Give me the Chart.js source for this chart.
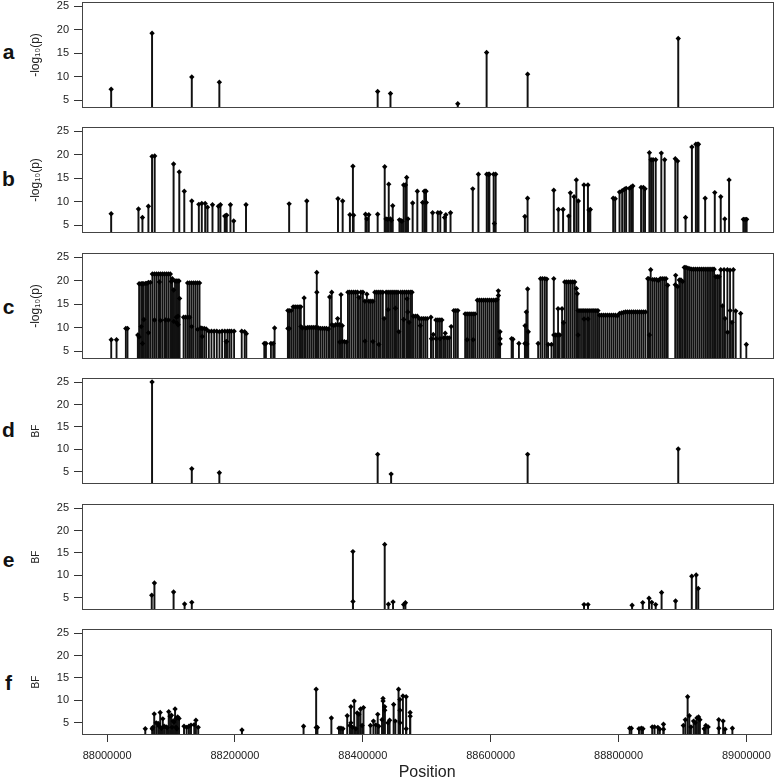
<!DOCTYPE html>
<html lang="en">
<head>
<meta charset="UTF-8">
<title>Association signals by position</title>
<script src="https://cdn.jsdelivr.net/npm/chart.js"></script>
<style>
  body { margin: 0; background: #fff; font-family: "Liberation Sans", Arial, sans-serif; }
  #wrap { position: relative; width: 778px; height: 781px; overflow: hidden; }
  .tag { position: absolute; left: 0; width: 17px; text-align: center; font-weight: bold; font-size: 21px; line-height: 20px; color: #111; }
</style>
</head>
<body>
<div id="wrap">
  <div class="tag" style="top:42px">a</div>
  <div class="tag" style="top:169px">b</div>
  <div class="tag" style="top:297px">c</div>
  <div class="tag" style="top:420px">d</div>
  <div class="tag" style="top:550px">e</div>
  <div class="tag" style="top:673px">f</div>
</div>
<script>
// positions are stored as kb offsets from 88,000,000
const ORIGIN = 88000000;
const xTicks = [88000000, 88200000, 88400000, 88600000, 88800000, 89000000];
const yTicks = [5, 10, 15, 20, 25];

// a: -log10(p), lead signals
const aKb  = [6.2, 70.0, 132.0, 175.0, 422.0, 442.0, 547.0, 592.0, 656.0, 891.0];
const aVal = [7.3, 19.2, 9.9, 8.8, 6.8, 6.4, 4.2, 15.1, 10.5, 18.1];

// b: -log10(p)
const bKb = [6.2, 48.8, 55.0, 64.3, 70.0, 74.1, 103.6, 112.5, 120.3, 132.0,
  143.0, 147.6, 152.9, 156.5, 164.3, 173.6, 176.7, 183.4, 185.0, 186.5,
  192.3, 197.4, 216.6, 283.9, 311.4, 360.1, 367.4, 378.7, 383.4, 384.5,
  403.1, 405.1, 408.2, 422.0, 433.0, 435.0, 437.5, 439.3, 441.9, 443.5,
  445.5, 456.0, 458.5, 460.0, 462.6, 465.3, 467.3, 469.3, 476.6, 483.9,
  492.2, 494.8, 496.4, 497.5, 497.9, 507.7, 515.9, 519.7, 526.4, 528.4,
  535.7, 570.4, 579.2, 592.2, 594.7, 596.3, 603.0, 604.1, 606.1, 651.7,
  655.9, 696.8, 704.0, 711.3, 720.1, 722.7, 728.4, 732.0, 735.1, 743.9,
  750.1, 751.7, 753.8, 789.5, 792.6, 799.4, 803.5, 807.1, 809.7, 814.9,
  817.5, 820.1, 833.0, 836.6, 839.2, 846.0, 848.6, 851.7, 855.8, 864.6,
  869.8, 886.4, 890.0, 902.4, 912.3, 918.5, 921.1, 922.6, 933.0, 948.0,
  957.3, 963.6, 970.3, 992.6, 995.2, 997.7];
const bVal = [7.4, 8.4, 6.6, 9.0, 19.6, 19.7, 18.0, 16.3, 12.2, 10.1,
  9.4, 9.6, 9.6, 8.8, 9.3, 9.0, 9.3, 6.9, 7.0, 7.1,
  9.3, 5.85, 9.3, 9.5, 10.1, 10.6, 10.1, 7.2, 17.5, 7.1,
  7.3, 6.3, 7.2, 7.3, 17.4, 6.3, 6.2, 13.7, 6.3, 6.0,
  9.1, 6.1, 5.9, 5.8, 13.5, 13.5, 15.1, 6.3, 9.7, 12.2,
  9.8, 12.2, 12.2, 12.2, 9.8, 7.6, 7.6, 7.6, 6.6, 7.2,
  7.6, 12.7, 15.8, 15.8, 15.8, 15.8, 15.8, 5.3, 15.8, 6.8,
  10.7, 12.4, 8.3, 8.3, 6.9, 11.85, 11.0, 14.6, 10.1, 13.5,
  13.5, 8.2, 8.3, 10.7, 10.6, 12.0, 12.3, 12.6, 12.8, 12.8,
  13.1, 13.3, 13.0, 13.0, 12.7, 20.4, 18.9, 18.9, 18.9, 20.3,
  18.9, 19.1, 18.6, 6.6, 21.6, 22.2, 22.2, 22.2, 10.7, 11.9,
  11.0, 6.3, 14.6, 6.2, 6.2, 6.2];

// c: -log10(p), all variants
const cKb = [6.3, 14.6, 29.1, 31.7, 47.8, 49.8, 49.9, 53.0, 53.1, 55.0,
  55.1, 57.1, 57.2, 60.2, 62.2, 64.3, 64.4, 67.4, 70.5, 73.7,
  73.8, 76.8, 79.9, 81.5, 83.0, 83.1, 86.1, 89.2, 90.7, 92.3,
  95.4, 95.5, 98.5, 100.0, 101.6, 103.7, 103.8, 105.8, 107.8, 107.9,
  108.5, 110.4, 110.5, 110.6, 112.0, 113.0, 119.2, 122.3, 125.5, 125.6,
  128.6, 128.7, 131.7, 131.8, 134.8, 137.9, 141.0, 141.1, 144.1, 146.2,
  148.2, 148.3, 151.4, 154.5, 158.6, 162.7, 166.9, 171.0, 175.2, 179.3,
  183.5, 185.5, 186.5, 187.6, 190.7, 193.8, 198.0, 209.9, 214.5, 217.1,
  245.1, 247.7, 255.5, 259.1, 261.2, 281.9, 282.0, 284.0, 284.1, 287.1,
  290.2, 293.3, 296.4, 299.5, 302.1, 302.2, 304.7, 307.3, 309.9, 313.0,
  316.1, 319.2, 322.3, 325.4, 327.0, 327.1, 329.5, 332.7, 335.8, 338.9,
  342.0, 345.1, 347.2, 350.3, 350.4, 353.4, 356.5, 359.6, 359.7, 362.7,
  362.8, 364.8, 366.8, 366.9, 370.0, 373.1, 375.6, 378.2, 381.3, 384.5,
  387.6, 390.7, 392.7, 395.8, 399.0, 402.1, 402.2, 405.2, 408.3, 411.4,
  414.5, 414.6, 417.6, 420.7, 423.8, 423.9, 426.9, 430.1, 432.1, 435.2,
  438.3, 438.4, 441.4, 444.5, 447.6, 449.7, 450.7, 453.8, 455.0, 458.0,
  461.1, 462.7, 464.2, 467.3, 467.8, 469.0, 470.4, 471.0, 473.5, 475.6,
  477.7, 480.8, 483.9, 487.0, 488.6, 490.1, 493.2, 496.3, 499.4, 505.1,
  506.0, 508.8, 512.9, 513.0, 516.0, 519.1, 519.2, 522.2, 525.3, 527.4,
  530.5, 533.6, 536.7, 540.9, 544.0, 547.1, 558.5, 561.6, 561.7, 564.7,
  567.8, 570.9, 571.0, 574.0, 577.6, 580.8, 583.9, 587.0, 590.1, 593.2,
  596.3, 599.4, 602.5, 605.6, 608.2, 610.3, 610.4, 612.9, 613.0, 613.1,
  631.0, 633.1, 642.4, 651.7, 652.0, 654.0, 655.0, 656.0, 657.0, 672.4,
  676.1, 679.2, 682.8, 685.9, 688.0, 693.2, 696.8, 696.9, 700.0, 703.0,
  703.5, 706.0, 709.7, 712.0, 713.9, 717.0, 720.1, 723.2, 726.3, 729.4,
  732.0, 733.6, 734.6, 734.7, 737.7, 740.8, 743.9, 744.0, 747.0, 750.1,
  750.2, 753.2, 756.4, 759.5, 762.6, 765.7, 768.3, 771.4, 774.5, 777.6,
  780.7, 783.8, 786.9, 790.0, 793.1, 796.2, 799.4, 802.5, 805.6, 808.7,
  811.8, 814.9, 818.0, 821.1, 824.2, 827.3, 830.4, 833.5, 836.6, 839.8,
  843.4, 845.0, 846.0, 848.0, 851.0, 854.0, 857.0, 860.0, 863.0, 866.0,
  869.0, 872.0, 874.5, 886.4, 887.0, 890.0, 892.6, 895.2, 897.8, 900.4,
  903.0, 906.0, 909.0, 912.0, 915.0, 918.0, 921.0, 924.0, 927.0, 930.0,
  933.0, 936.0, 939.0, 942.0, 945.0, 947.0, 949.6, 952.2, 954.8, 957.3,
  960.0, 962.5, 964.0, 967.7, 968.0, 971.8, 972.0, 975.0, 977.0, 980.7,
  988.4, 997.2];
const cVal = [7.4, 7.4, 9.8, 9.8, 8.4, 19.3, 8.0, 19.3, 10.2, 19.3,
  6.6, 19.3, 11.7, 19.4, 19.4, 19.6, 8.9, 19.6, 21.4, 21.4,
  11.6, 21.4, 21.4, 19.7, 21.4, 11.5, 21.4, 21.4, 11.6, 21.4,
  21.4, 11.6, 21.4, 19.8, 20.4, 18.0, 11.3, 19.9, 19.9, 12.2,
  11.0, 19.9, 12.4, 10.6, 19.9, 16.2, 12.2, 12.2, 19.5, 12.2,
  19.5, 12.2, 19.5, 10.2, 19.5, 19.5, 19.5, 9.6, 19.5, 9.9,
  9.8, 8.1, 9.8, 9.7, 9.2, 9.2, 9.2, 9.2, 9.1, 9.2,
  9.2, 7.0, 7.0, 9.2, 9.2, 9.2, 9.2, 9.2, 9.1, 8.7,
  6.6, 6.6, 6.6, 6.6, 9.9, 13.6, 9.8, 13.6, 9.8, 13.6,
  14.4, 14.4, 14.4, 14.4, 14.4, 10.2, 9.9, 16.3, 9.9, 10.0,
  10.0, 10.0, 10.0, 10.0, 21.7, 17.5, 9.9, 9.8, 9.8, 9.8,
  9.8, 9.7, 16.5, 17.5, 10.6, 10.4, 10.6, 11.9, 10.6, 10.6,
  6.9, 17.0, 10.4, 7.0, 7.0, 6.9, 17.5, 17.5, 17.5, 17.5,
  17.5, 17.5, 16.4, 17.5, 17.5, 15.6, 7.1, 17.1, 15.6, 15.6,
  15.6, 7.0, 17.5, 17.5, 17.5, 6.4, 17.5, 17.5, 11.9, 17.5,
  17.5, 13.8, 17.5, 17.5, 17.5, 14.1, 17.5, 17.5, 9.1, 17.5,
  17.5, 11.7, 17.5, 17.5, 16.1, 13.3, 17.5, 11.1, 17.5, 17.5,
  12.4, 12.4, 12.4, 11.9, 10.4, 11.9, 11.9, 11.9, 11.9, 12.2,
  7.6, 8.5, 11.6, 7.6, 11.6, 11.6, 7.6, 11.6, 7.8, 8.8,
  7.8, 7.8, 10.2, 13.6, 13.6, 13.6, 12.9, 12.9, 7.4, 12.9,
  12.9, 12.9, 7.4, 12.9, 15.8, 15.8, 15.8, 15.8, 15.8, 15.8,
  15.8, 15.8, 15.8, 15.8, 15.9, 17.8, 16.8, 9.1, 7.6, 6.5,
  7.6, 7.5, 6.6, 6.6, 10.4, 13.3, 6.5, 18.2, 9.1, 6.6,
  20.4, 20.4, 20.4, 20.3, 6.4, 6.4, 20.4, 8.4, 8.4, 8.4,
  14.0, 8.4, 14.0, 11.0, 19.7, 19.7, 19.7, 19.7, 19.7, 19.7,
  18.3, 17.2, 13.6, 8.4, 13.6, 13.6, 13.6, 11.8, 13.6, 13.6,
  11.8, 13.6, 13.6, 13.6, 13.6, 13.6, 12.6, 12.6, 12.6, 12.6,
  12.6, 12.6, 12.6, 12.6, 12.6, 12.5, 13.0, 13.1, 13.2, 13.3,
  13.3, 13.3, 13.3, 13.3, 13.3, 13.3, 13.3, 13.3, 13.3, 13.3,
  20.4, 20.4, 8.4, 22.3, 20.2, 20.2, 20.2, 20.0, 20.4, 20.4,
  20.4, 20.4, 19.0, 19.1, 21.1, 18.7, 20.1, 20.1, 19.8, 22.8,
  22.8, 22.6, 22.5, 22.4, 22.4, 22.4, 22.4, 22.4, 22.4, 22.4,
  22.4, 22.4, 22.4, 22.4, 22.4, 22.4, 20.8, 20.8, 20.8, 22.3,
  14.6, 22.3, 11.9, 22.3, 9.0, 22.2, 13.6, 11.1, 22.3, 13.5,
  13.0, 6.4];

// d: BF, lead signals
const dKb  = [70.0, 132.0, 175.0, 422.0, 443.0, 656.0, 891.0];
const dVal = [25.0, 5.7, 4.8, 8.9, 4.5, 8.9, 10.1];

// e: BF
const eKb = [69.5, 73.7, 103.6, 120.8, 132.0, 383.4, 383.5, 433.0, 438.8, 446.0,
  462.6, 465.3, 744.0, 750.2, 819.0, 835.6, 845.4, 849.6, 855.8, 865.0,
  886.8, 912.1, 919.0, 922.2];
const eVal = [5.6, 8.3, 6.3, 3.65, 4.0, 15.3, 4.2, 16.9, 3.6, 4.1,
  3.5, 3.9, 3.5, 3.5, 3.35, 3.95, 4.9, 4.0, 3.5, 6.2,
  4.3, 9.8, 10.1, 7.1];

// f: BF, all variants
const fKb = [59.7, 70.5, 71.5, 73.7, 76.8, 79.9, 81.0, 83.0, 85.0, 87.1,
  89.2, 92.3, 94.0, 96.4, 98.5, 100.6, 101.5, 103.2, 104.5, 106.3,
  107.8, 107.9, 109.0, 110.4, 112.5, 120.3, 124.4, 128.0, 131.2, 136.3,
  138.9, 142.5, 210.9, 307.3, 327.0, 327.1, 329.0, 350.8, 362.7, 365.8,
  368.9, 375.6, 379.8, 381.3, 381.4, 383.9, 386.5, 389.1, 391.2, 393.8,
  396.4, 398.9, 401.0, 411.9, 416.6, 420.2, 423.3, 424.9, 430.0, 431.6,
  431.7, 434.2, 434.3, 439.3, 441.9, 448.2, 450.8, 455.9, 458.0, 458.1,
  458.2, 462.7, 467.8, 467.9, 474.0, 474.1, 817.5, 820.1, 832.0, 835.6,
  838.2, 852.7, 856.3, 861.5, 864.6, 870.3, 870.4, 901.4, 904.5, 908.1,
  910.7, 913.3, 917.4, 920.0, 922.6, 925.2, 927.3, 934.0, 936.6, 940.2,
  956.8, 956.9, 963.6, 966.7, 978.1];
const fVal = [3.7, 3.7, 4.0, 7.0, 5.0, 4.85, 4.3, 7.3, 3.8, 5.9,
  4.25, 4.1, 3.9, 7.5, 6.5, 6.7, 4.0, 5.4, 5.2, 8.1,
  6.0, 4.0, 3.7, 6.3, 6.0, 4.25, 4.0, 4.25, 4.5, 4.6,
  5.6, 4.0, 3.4, 4.25, 12.5, 3.96, 3.96, 6.1, 3.8, 3.8,
  3.7, 6.6, 4.4, 8.6, 5.0, 4.0, 9.85, 3.7, 7.2, 6.9,
  8.1, 4.4, 8.4, 4.4, 5.4, 4.55, 6.9, 4.25, 5.7, 10.45,
  9.85, 8.6, 7.8, 5.0, 5.6, 9.1, 5.4, 12.5, 10.2, 7.8,
  5.0, 11.0, 10.8, 3.7, 7.3, 6.5, 3.8, 3.8, 3.7, 3.8,
  3.7, 4.1, 4.1, 4.0, 3.6, 4.7, 3.6, 4.4, 5.7, 10.8,
  6.6, 4.1, 5.4, 5.0, 6.1, 6.3, 5.7, 3.7, 4.4, 4.1,
  5.7, 3.8, 5.4, 3.6, 3.8];

const LOGP = '-log\u2081\u2080(p)';
const panels = [
  { kb: aKb, val: aVal, title: LOGP, yMin: 3.3, yMax: 25.86, stem: 1.3 },
  { kb: bKb, val: bVal, title: LOGP, yMin: 3.3, yMax: 25.86, stem: 1.3 },
  { kb: cKb, val: cVal, title: LOGP, yMin: 3.3, yMax: 25.86, stem: 1.2 },
  { kb: dKb, val: dVal, title: 'BF', yMin: 2.3, yMax: 25.9, stem: 1.3 },
  { kb: eKb, val: eVal, title: 'BF', yMin: 2.3, yMax: 25.9, stem: 1.3 },
  { kb: fKb, val: fVal, title: 'BF', yMin: 2.3, yMax: 25.9, stem: 1.3 }
];

// layout of the six plot boxes
const plotTop = [2, 127, 253, 378, 504, 629];
const PLOT_H = 106;
const PAD = 14;
const W = 778, H = 781;

Chart.defaults.font.family = '"Liberation Sans", Arial, sans-serif';
Chart.defaults.color = '#222';

// frame round the plotting region
const frame = {
  id: 'frame',
  afterDraw(chart) {
    const a = chart.chartArea, ctx = chart.ctx;
    ctx.save();
    ctx.strokeStyle = '#444';
    ctx.lineWidth = 1;
    ctx.strokeRect(Math.round(a.left) + 0.5, Math.round(a.top) + 0.5,
      Math.round(a.right - a.left) - 1, Math.round(a.bottom - a.top) - 1);
    ctx.restore();
  }
};

const wrap = document.getElementById('wrap');
panels.forEach((p, i) => {
  const last = i === panels.length - 1;
  const top = plotTop[i] - PAD;
  const h = last ? H - top : PLOT_H + 2 * PAD;
  const cv = document.createElement('canvas');
  cv.width = W; cv.height = h;
  cv.style.cssText = 'position:absolute;left:0;top:' + top + 'px;width:' + W + 'px;height:' + h + 'px';
  wrap.appendChild(cv);

  const pts = p.kb.map((k, j) => ({ x: ORIGIN + k * 1000, y: p.val[j] }));
  const bf = p.title === 'BF';

  new Chart(cv.getContext('2d'), {
    type: 'bar',
    data: {
      datasets: [
        { type: 'line', data: pts, showLine: false, pointStyle: 'rectRot',
          pointRadius: 2.7, pointBackgroundColor: '#000', pointBorderWidth: 0, order: 0 },
        { type: 'bar', data: pts, backgroundColor: '#111', barThickness: p.stem,
          borderWidth: 0, order: 1 }
      ]
    },
    options: {
      responsive: false,
      animation: false,
      events: [],
      layout: { padding: { top: PAD, bottom: last ? 0 : PAD, left: 0, right: 2 } },
      plugins: { legend: { display: false }, tooltip: { enabled: false } },
      scales: {
        x: {
          type: 'linear',
          display: last,
          offset: false,
          min: 87960700,
          max: 89040400,
          afterBuildTicks: s => { s.ticks = xTicks.map(v => ({ value: v })); },
          afterFit: s => { if (last) s.height = H - (plotTop[i] + PLOT_H); },
          grid: { offset: false, drawOnChartArea: false, tickLength: 7, color: '#333' },
          border: { display: false },
          ticks: { font: { size: 11 }, padding: 7, maxRotation: 0, autoSkip: false, callback: v => String(v) },
          title: { display: true, text: 'Position', font: { size: 16, lineHeight: 1 }, padding: { top: 0, bottom: 0 } }
        },
        y: {
          min: p.yMin,
          max: p.yMax,
          afterBuildTicks: s => { s.ticks = yTicks.map(v => ({ value: v })); },
          afterFit: s => { s.width = 82; },
          grid: { drawOnChartArea: false, tickLength: 8, color: '#333' },
          border: { display: false },
          ticks: { font: { size: 11 }, padding: 5, callback: v => String(v) },
          title: { display: true, text: p.title, font: { size: bf ? 10 : 12 },
            padding: { top: bf ? 30 : 28, bottom: 0 } }
        }
      }
    },
    plugins: [frame]
  });
});
</script>
</body>
</html>
